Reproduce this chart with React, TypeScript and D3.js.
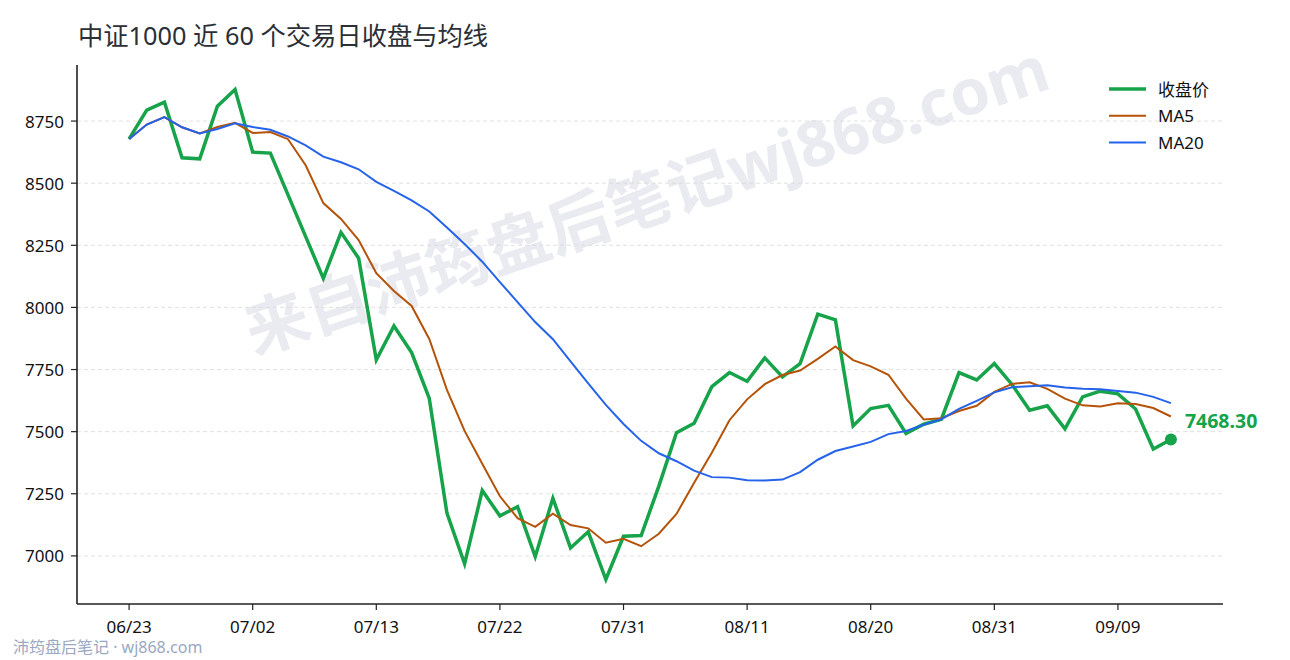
import React, { useEffect } from "react";
import * as d3 from "d3";

const dates = [
  "06/23", "06/24", "06/25", "06/26", "06/27", "06/30", "07/01", "07/02",
  "07/03", "07/06", "07/07", "07/08", "07/09", "07/10", "07/13",
  "07/14", "07/15", "07/16", "07/17", "07/20", "07/21", "07/22",
  "07/23", "07/24", "07/27", "07/28", "07/29", "07/30", "07/31",
  "08/03", "08/04", "08/05", "08/06", "08/07", "08/10", "08/11",
  "08/12", "08/13", "08/14", "08/17", "08/18", "08/19", "08/20",
  "08/21", "08/24", "08/25", "08/26", "08/27", "08/28", "08/31",
  "09/01", "09/02", "09/03", "09/04", "09/07", "09/08", "09/09",
  "09/10", "09/11", "09/14",
];

const closes = [
  8678, 8794, 8826, 8602, 8598, 8810, 8877, 8625, 8621, 8453,
  8285, 8117, 8302, 8198, 7789, 7925, 7818, 7634, 7172, 6968,
  7263, 7161, 7198, 6997, 7232, 7032, 7097, 6905, 7079, 7082,
  7281, 7496, 7534, 7681, 7738, 7703, 7797, 7720, 7774, 7973,
  7950, 7523, 7593, 7606, 7493, 7530, 7550, 7738, 7708, 7774,
  7690, 7586, 7604, 7511, 7640, 7663, 7652, 7591, 7430, 7468.3,
];

const ma5 = [
  8678, 8736, 8766, 8725, 8700, 8726, 8743, 8702, 8706, 8677,
  8572, 8420, 8356, 8271, 8138, 8066, 8006, 7873, 7668, 7503,
  7371, 7240, 7152, 7117, 7170, 7124, 7111, 7053, 7069, 7039,
  7089, 7169, 7294, 7415, 7546, 7630, 7691, 7728, 7746, 7793,
  7843, 7788, 7763, 7729, 7633, 7549, 7554, 7583, 7604, 7660,
  7692, 7699, 7672, 7633, 7606, 7601, 7614, 7611, 7595, 7561,
];

const ma20 = [
  8678, 8736, 8766, 8725, 8700, 8718, 8741, 8726, 8715, 8688,
  8652, 8607, 8584, 8556, 8505, 8469, 8431, 8386, 8322, 8255,
  8184, 8102, 8021, 7941, 7872, 7783, 7694, 7608, 7531, 7463,
  7413, 7381, 7343, 7317, 7315, 7304, 7303, 7307, 7337, 7387,
  7422, 7440, 7459, 7490, 7503, 7528, 7550, 7592, 7624, 7658,
  7679, 7683, 7687, 7678, 7673, 7671, 7664, 7657, 7640, 7615,
];

const yTicks = [7000, 7250, 7500, 7750, 8000, 8250, 8500, 8750];
const xTickIdx = [0, 7, 14, 21, 28, 35, 42, 49, 56];

const title = "中证1000 近 60 个交易日收盘与均线";
const watermark = "来自沛筠盘后笔记wj868.com";
const footer = "沛筠盘后笔记 · wj868.com";

const seriesInfo = [
  { name: "收盘价", values: closes, color: "#16a34a", width: 3.5 },
  { name: "MA5", values: ma5, color: "#b45309", width: 2 },
  { name: "MA20", values: ma20, color: "#2563eb", width: 2 },
];

const W = 1290;
const H = 660;
const FONT = "'Noto Sans', 'Noto Sans CJK SC', sans-serif";

export default function App() {
  useEffect(() => {
    document.body.style.margin = "0";
  }, []);

  const left = 77, right = 1223, top = 65, bottom = 604;
  const n = closes.length;
  const xPad = (n - 1) * 0.05;
  const x = d3.scaleLinear().domain([-xPad, n - 1 + xPad]).range([left, right]);
  const all = closes.concat(ma5, ma20);
  const ymin = d3.min(all) as number;
  const ymax = d3.max(all) as number;
  const yPad = (ymax - ymin) * 0.05;
  const y = d3.scaleLinear().domain([ymin - yPad, ymax + yPad]).range([bottom, top]);

  const line = (vals: number[]) =>
    d3.line<number>().x((_, i) => x(i)).y((v) => y(v))(vals) || "";

  const last = closes[n - 1];

  return (
    <svg width={W} height={H} style={{ display: "block", background: "#fff" }} fontFamily={FONT}>
      {/* watermark */}
      <text
        x={646}
        y={198}
        transform="rotate(-18.5 646 198)"
        textAnchor="middle"
        dominantBaseline="central"
        fontSize={63.5}
        fontWeight="bold"
        fill="#e9ebf0"
      >
        {watermark}
      </text>

      {/* title */}
      <text x={78} y={45} fontSize={25.3} fill="#2b2f36">
        {title}
      </text>

      {/* grid */}
      {yTicks.map((t) => (
        <line
          key={"g" + t}
          x1={left}
          x2={right}
          y1={y(t)}
          y2={y(t)}
          stroke="#d9d9d9"
          strokeWidth={0.8}
          strokeDasharray="4 3"
        />
      ))}

      {/* y ticks */}
      {yTicks.map((t) => (
        <g key={"yt" + t}>
          <line x1={left - 6} x2={left} y1={y(t)} y2={y(t)} stroke="#222" strokeWidth={1.2} />
          <text x={left - 13} y={y(t)} textAnchor="end" dominantBaseline="central" fontSize={17} fill="#111">
            {t}
          </text>
        </g>
      ))}

      {/* x ticks */}
      {xTickIdx.map((i) => (
        <g key={"xt" + i}>
          <line x1={x(i)} x2={x(i)} y1={bottom} y2={bottom + 6} stroke="#222" strokeWidth={1.2} />
          <text x={x(i)} y={bottom + 29} textAnchor="middle" fontSize={17} fill="#111">
            {dates[i]}
          </text>
        </g>
      ))}

      {/* series */}
      {seriesInfo.map((s) => (
        <path
          key={s.name}
          d={line(s.values)}
          fill="none"
          stroke={s.color}
          strokeWidth={s.width}
          strokeLinejoin="miter"
        />
      ))}

      {/* last point */}
      <circle cx={x(n - 1)} cy={y(last)} r={6} fill="#16a34a" />
      <text x={x(n - 1) + 14} y={y(last) - 12} fontSize={19.5} fontWeight="bold" fill="#16a34a">
        {last.toFixed(2)}
      </text>

      {/* spines */}
      <line x1={left} x2={left} y1={top} y2={bottom} stroke="#222" strokeWidth={1.6} />
      <line x1={left} x2={right} y1={bottom} y2={bottom} stroke="#222" strokeWidth={1.6} />

      {/* legend */}
      {seriesInfo.map((s, k) => (
        <g key={"lg" + s.name}>
          <line x1={1109} x2={1146} y1={89 + k * 26.7} y2={89 + k * 26.7} stroke={s.color} strokeWidth={s.width} />
          <text x={1158} y={89 + k * 26.7} dominantBaseline="central" fontSize={17} fill="#111">
            {s.name}
          </text>
        </g>
      ))}

      {/* footer */}
      <text x={13} y={653} fontSize={16} fill="#9aa8c0">
        {footer}
      </text>
    </svg>
  );
}
